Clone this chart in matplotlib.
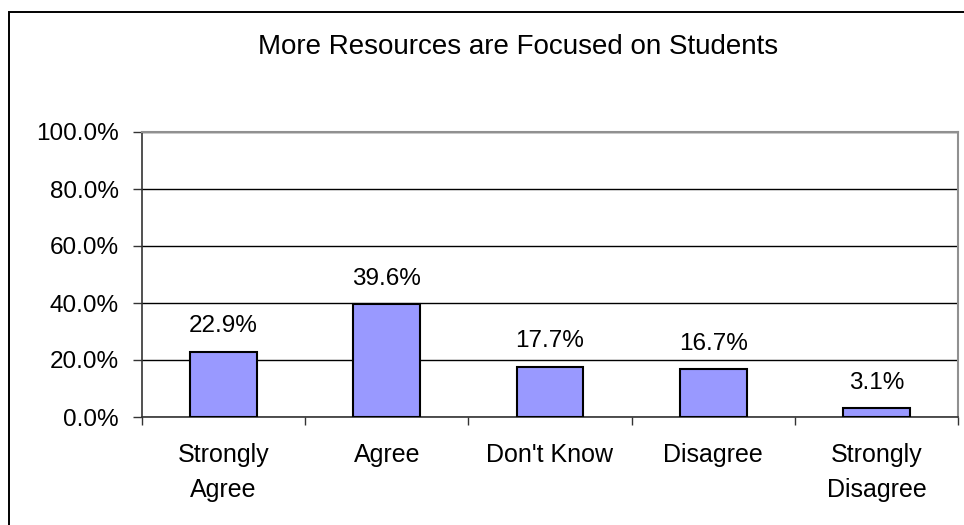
import matplotlib
matplotlib.use("Agg")
import matplotlib.pyplot as plt
from matplotlib.patches import Rectangle
from matplotlib.ticker import FixedLocator, PercentFormatter

categories = ["Strongly\nAgree", "Agree", "Don't Know", "Disagree", "Strongly\nDisagree"]
values = [22.9, 39.6, 17.7, 16.7, 3.1]
value_labels = ["22.9%", "39.6%", "17.7%", "16.7%", "3.1%"]
y_ticks = [0, 20, 40, 60, 80, 100]
title = "More Resources are Focused on Students"

plt.rcParams["font.family"] = ["Liberation Sans", "DejaVu Sans"]

fig = plt.figure(figsize=(9.64, 5.25), dpi=100)
fig.patch.set_facecolor("white")

# outer chart frame
fig.add_artist(Rectangle((9 / 964, -0.05), 1.2, 1 - 12 / 525 + 0.05,
                         transform=fig.transFigure, fill=False,
                         edgecolor="black", linewidth=1.4))

ax = fig.add_axes([142 / 964, 1 - 417 / 525, (958 - 142) / 964, (417 - 132) / 525])

x = list(range(len(categories)))
ax.bar(x, values, width=0.41, color="#9999FF", edgecolor="black",
       linewidth=1.5, zorder=3)

for xi, v, lab in zip(x, values, value_labels):
    ax.annotate(lab, (xi, v), xytext=(0, 14), textcoords="offset points",
                ha="center", va="baseline", fontsize=17.5, color="black")

ax.set_xlim(-0.5, len(categories) - 0.5)
ax.set_ylim(0, 100)
ax.set_yticks(y_ticks)
ax.yaxis.set_major_formatter(PercentFormatter(decimals=1))
ax.yaxis.grid(True, color="black", linewidth=1.0, zorder=0)
ax.set_axisbelow(True)

ax.set_xticks(x)
ax.set_xticklabels(categories, fontsize=18, linespacing=1.55)
ax.xaxis.set_minor_locator(FixedLocator([i - 0.5 for i in range(len(categories) + 1)]))
ax.tick_params(axis="x", which="major", length=0, pad=19)
ax.tick_params(axis="x", which="minor", length=6, width=1.0, color="#333333")
ax.tick_params(axis="y", length=6.5, width=1.0, color="#333333",
               labelsize=17.5, pad=10)

for side in ("left", "bottom"):
    ax.spines[side].set_color("#333333")
    ax.spines[side].set_linewidth(1.2)
for side in ("top", "right"):
    ax.spines[side].set_color("#909090")
    ax.spines[side].set_linewidth(1.5)

fig.text(518 / 964, 1 - 47 / 525, title, ha="center", va="center",
         fontsize=20)

fig.savefig("out.png", dpi=100)
